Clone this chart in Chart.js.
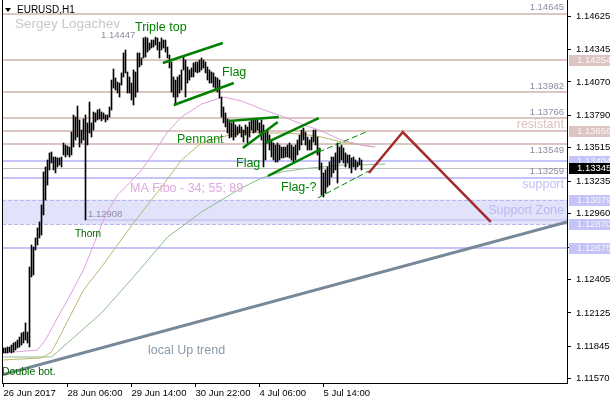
<!DOCTYPE html>
<html><head><meta charset="utf-8">
<script src="https://cdn.jsdelivr.net/npm/chart.js@4.4.0/dist/chart.umd.min.js"></script>
<style>html,body{margin:0;padding:0;background:#fff;}canvas{display:block;}</style>
</head><body>
<canvas id="c" width="610" height="400"></canvas>
<script>
// ---- data ----
const timeLabels = ['26 Jun 2017','28 Jun 06:00','29 Jun 14:00','30 Jun 22:00','4 Jul 06:00','5 Jul 14:00'];
const timeTickBars = [0,32,64,96,128,160];
const priceTicks = [1.14625,1.14345,1.14070,1.13790,1.13515,1.13235,1.12960,1.12680,1.12405,1.12125,1.11845,1.11570];

const highs = [
1.11830,1.11830,1.11838,1.11838,1.11855,1.11872,1.11880,1.11897,1.11922,1.11956,
1.11964,1.12041,1.11964,1.12512,1.12697,1.12680,1.12756,1.12841,1.12891,1.13034,
1.13312,1.13354,1.13413,1.13472,1.13480,1.13438,1.13438,1.13430,1.13430,1.13438,
1.13556,1.13539,1.13530,1.13522,1.13648,1.13792,1.13775,1.13867,1.13750,1.13665,
1.13758,1.13792,1.13725,1.13901,1.13725,1.13817,1.13809,1.13834,1.13842,1.13817,
1.13809,1.13792,1.13792,1.13859,1.14086,1.14179,1.14103,1.14069,1.14061,1.14146,
1.14314,1.14339,1.14154,1.14112,1.14061,1.14171,1.14154,1.14314,1.14314,1.14272,
1.14440,1.14448,1.14440,1.14398,1.14423,1.14423,1.14447,1.14440,1.14406,1.14440,
1.14423,1.14423,1.14364,1.14297,1.14238,1.14112,1.14086,1.14112,1.14128,1.14171,
1.14280,1.14255,1.14196,1.14171,1.14188,1.14230,1.14238,1.14238,1.14255,1.14272,
1.14255,1.14238,1.14196,1.14171,1.14154,1.14146,1.14112,1.14103,1.14086,1.13943,
1.13859,1.13809,1.13758,1.13750,1.13725,1.13733,1.13708,1.13691,1.13708,1.13691,
1.13665,1.13708,1.13691,1.13733,1.13758,1.13758,1.13750,1.13750,1.13725,1.13750,
1.13708,1.13640,1.13665,1.13623,1.13581,1.13556,1.13539,1.13556,1.13539,1.13522,
1.13522,1.13522,1.13539,1.13556,1.13539,1.13522,1.13539,1.13581,1.13623,1.13665,
1.13682,1.13648,1.13606,1.13581,1.13606,1.13665,1.13665,1.13606,1.13514,1.13388,
1.13304,1.13329,1.13354,1.13396,1.13438,1.13438,1.13472,1.13556,1.13522,1.13539,
1.13514,1.13472,1.13455,1.13455,1.13430,1.13438,1.13413,1.13396,1.13430,1.13413];
const lows = [
1.11788,1.11788,1.11788,1.11796,1.11788,1.11796,1.11813,1.11830,1.11838,1.11855,
1.11872,1.11897,1.11872,1.11838,1.12428,1.12445,1.12655,1.12697,1.12756,1.12781,
1.12950,1.13076,1.13202,1.13329,1.13388,1.13329,1.13304,1.13354,1.13371,1.13354,
1.13455,1.13438,1.13455,1.13438,1.13455,1.13522,1.13581,1.13606,1.13522,1.13556,
1.13581,1.12908,1.13539,1.13640,1.13606,1.13665,1.13733,1.13750,1.13758,1.13742,
1.13758,1.13733,1.13750,1.13775,1.13834,1.14019,1.14002,1.13977,1.13943,1.14044,
1.14112,1.14146,1.13977,1.13977,1.13918,1.13876,1.13943,1.13985,1.14196,1.14213,
1.14272,1.14280,1.14322,1.14339,1.14356,1.14364,1.14381,1.14339,1.14272,1.14339,
1.14356,1.14322,1.14272,1.14188,1.13985,1.13943,1.13876,1.13943,1.13977,1.14002,
1.14171,1.13943,1.14061,1.14086,1.14112,1.14112,1.14154,1.14146,1.14154,1.14171,
1.14188,1.14146,1.14086,1.14061,1.14061,1.14027,1.14002,1.13985,1.13935,1.13775,
1.13725,1.13691,1.13640,1.13598,1.13606,1.13581,1.13606,1.13623,1.13640,1.13606,
1.13564,1.13623,1.13556,1.13606,1.13665,1.13640,1.13648,1.13665,1.13640,1.13581,
1.13354,1.13413,1.13556,1.13497,1.13438,1.13413,1.13396,1.13396,1.13413,1.13430,
1.13430,1.13438,1.13438,1.13430,1.13413,1.13396,1.13413,1.13455,1.13497,1.13539,
1.13581,1.13539,1.13497,1.13497,1.13497,1.13564,1.13539,1.13455,1.13329,1.13118,
1.13101,1.13135,1.13185,1.13202,1.13270,1.13304,1.13329,1.13219,1.13388,1.13413,
1.13388,1.13354,1.13388,1.13346,1.13304,1.13354,1.13329,1.13354,1.13371,1.13329];

// moving averages: [bar, price]
const ma34 = [[0,1.11788],[17,1.11813],[21,1.11897],[25,1.12024],[32,1.12234],[40,1.12487],[46,1.12739],[51,1.12950],[57,1.13118],[63,1.13219],[69,1.13329],[74,1.13447],[82,1.13648],[89,1.13775],[99,1.13884],[110,1.13943],[119,1.13910],[129,1.13842],[139,1.13783],[149,1.13716],[159,1.13657],[169,1.13581],[179,1.13539],[186,1.13522]];
const ma55 = [[0,1.11729],[19,1.11746],[24,1.11796],[29,1.11956],[40,1.12318],[49,1.12512],[65,1.12883],[79,1.13185],[89,1.13413],[99,1.13556],[109,1.13606],[119,1.13648],[129,1.13640],[139,1.13640],[149,1.13632],[159,1.13606],[169,1.13564],[179,1.13539],[185,1.13522]];
const ma89 = [[0,1.11754],[24,1.11754],[32,1.11872],[49,1.12125],[65,1.12428],[82,1.12764],[99,1.12975],[109,1.13076],[119,1.13177],[129,1.13261],[139,1.13312],[149,1.13337],[159,1.13354],[169,1.13371],[179,1.13371],[191,1.13379]];

// drawn objects: [bar, price] pairs
const flag1Top = [[79.65,1.14230],[109.65,1.14398]];
const flag1Bottom = [[85.15,1.13876],[115.15,1.14061]];
const pennantTop = [[112.65,1.13741],[137.65,1.13775]];
const pennantBottom = [[119.65,1.13514],[137.15,1.13733]];
const flag2Top = [[131.15,1.13556],[157.65,1.13766]];
const flag2Bottom = [[132.15,1.13278],[158.65,1.13505]];
const flag3Top = [[157.65,1.13480],[181.15,1.13648]];
const flag3Bottom = [[157.15,1.13093],[182.65,1.13320]];
const forecast = [[182.65,1.13303],[199.65,1.13648],[243.65,1.12891]];
const upTrend = [[-0.75,1.11603],[281.75,1.12891]];

const resistLevels = [1.14645,1.14254,1.13982,1.13766,1.13656,1.13549];
const supportLevels = [1.13404,1.13259,1.12675];
const supportZone = [1.13079,1.12870];
const thornLevel = 1.12908, thornBar = 41;
const bidPrice = 1.13345;
const highPrice = 1.14447, lowPrice = 1.12908;

// ---- chart ----
const FONT = '"Liberation Sans", Arial, sans-serif';
const pts = a => a.map(p => ({x:p[0], y:p[1]}));
function lineDs(a, color, w, dash, order){
  return {type:'line', data:pts(a), borderColor:color, borderWidth:w, borderDash:dash||[], pointRadius:0, tension:0, fill:false, order:order};
}

const overlay = {
  id:'overlay',
  beforeDatasetsDraw(chart){
    const {ctx, chartArea:a, scales:{x,y}} = chart;
    ctx.save();
    ctx.beginPath(); ctx.rect(a.left, a.top, a.right-a.left, a.bottom-a.top); ctx.clip();
    const zt = y.getPixelForValue(supportZone[0]), zb = y.getPixelForValue(supportZone[1]);
    ctx.fillStyle = '#e2e2fb';
    ctx.fillRect(a.left, zt, a.right-a.left, zb-zt);
    const hl = (v, color, w, dash, x0) => {
      const py = Math.round(y.getPixelForValue(v)) + (w%2 ? 0.5 : 0);
      ctx.strokeStyle = color; ctx.lineWidth = w; ctx.setLineDash(dash||[]);
      ctx.beginPath(); ctx.moveTo(x0 !== undefined ? x0 : a.left, py); ctx.lineTo(a.right, py); ctx.stroke();
    };
    hl(thornLevel, '#cdcdf3', 2, null, x.getPixelForValue(thornBar));
    hl(supportZone[0], '#b8b8f0', 1, [4,2]);
    hl(supportZone[1], '#b8b8f0', 1, [4,2]);
    resistLevels.forEach(v => hl(v, '#dcc6c2', 2));
    supportLevels.forEach(v => hl(v, '#c4c4f8', 2));
    hl(bidPrice, '#c0c0c0', 1);
    ctx.restore();
  },
  afterDatasetsDraw(chart){
    const {ctx, chartArea:a, scales:{x,y}} = chart;
    ctx.save();
    const t = (s, px, py, color, size, align) => {
      ctx.font = size + 'px ' + FONT; ctx.fillStyle = color; ctx.textAlign = align||'left'; ctx.textBaseline = 'alphabetic';
      ctx.fillText(s, px, py);
    };
    const R = a.right - 3;
    [1.14645,1.13982,1.13766].forEach(v => t(v.toFixed(5), R, y.getPixelForValue(v)-3.5, '#8c8ca4', 9.5, 'right'));
    t('1.13549', R, y.getPixelForValue(1.13549)+9, '#8c8ca4', 9.5, 'right');
    t('1.13259', R, y.getPixelForValue(1.13259)-4, '#8c8ca4', 9.5, 'right');
    t('resistant', R, y.getPixelForValue(1.13656)-3, '#dcc2be', 12.5, 'right');
    t('support', R, y.getPixelForValue(supportZone[0])-12, '#c0c0f4', 12.5, 'right');
    t('Support Zone', R, y.getPixelForValue(supportZone[0])+14, '#b8b8f0', 12.5, 'right');
    t('Sergey Logachev', 15, 28, '#c8c8c8', 13.5);
    t('Triple top', 135, 31, '#008000', 12.5);
    t(highPrice.toFixed(5), 101, 38, '#8c8ca4', 9.5);
    t('Flag', 222, 76, '#008000', 12.5);
    t('Pennant', 177, 143, '#0f8a0f', 12.5);
    t('Flag', 236, 167, '#008000', 12.5);
    t('Flag-?', 281, 191, '#008000', 12.5);
    t('MA Fibo - 34; 55; 89', 130, 192, '#e0a8e0', 12.5);
    t(lowPrice.toFixed(5), 88, 217, '#8c8ca4', 9.5);
    t('Thorn', 75, 237, '#006400', 10);
    t('Double bot.', 2, 375, '#006400', 10.5);
    t('local Up trend', 148, 354, '#8a9aaa', 12.5);
    ctx.restore();
  },
  afterDraw(chart){
    const {ctx, chartArea:a, scales:{y}} = chart;
    ctx.save();
    ctx.strokeStyle = '#000'; ctx.lineWidth = 1;
    ctx.beginPath(); ctx.moveTo(a.left+0.5, 0); ctx.lineTo(a.left+0.5, a.bottom); ctx.stroke();
    ctx.fillStyle = '#000';
    ctx.beginPath(); ctx.moveTo(5,8); ctx.lineTo(11,8); ctx.lineTo(8,12); ctx.closePath(); ctx.fill();
    ctx.font = '10px ' + FONT; ctx.textAlign='left'; ctx.textBaseline='alphabetic';
    ctx.fillText('EURUSD,H1', 17, 13);
    const box = (v, bg, fg) => {
      const py = Math.round(y.getPixelForValue(v));
      ctx.fillStyle = bg; ctx.fillRect(a.right+2, py-5, 41, 11);
      ctx.fillStyle = fg; ctx.font = '9.5px ' + FONT; ctx.textBaseline='middle';
      ctx.fillText(v.toFixed(5), a.right+10, py+0.5);
    };
    box(1.14254, '#dcc6c2', '#fbf4f3');
    box(1.13656, '#dcc6c2', '#fbf4f3');
    box(1.13404, '#c4c4f8', '#f4f4ff');
    box(supportZone[0], '#c4c4f8', '#f4f4ff');
    box(supportZone[1], '#c4c4f8', '#f4f4ff');
    box(1.12675, '#c4c4f8', '#f4f4ff');
    box(bidPrice, '#000', '#fff');
    ctx.restore();
  }
};

new Chart(document.getElementById('c'), {
  type:'bar',
  data:{datasets:[
    {type:'bar', data: highs.map((h,i)=>({x:i, y:[lows[i], h]})), backgroundColor:'#000', borderWidth:0, barThickness:1, grouped:false, order:2},
    lineDs(ma34, '#dda0dd', 1, null, 3),
    lineDs(ma55, '#bdb76b', 1, null, 3),
    lineDs(ma89, '#8fbc8f', 1, null, 3),
    lineDs(flag1Top, '#008000', 2.5, null, 1),
    lineDs(flag1Bottom, '#008000', 2.5, null, 1),
    lineDs(pennantTop, '#008000', 2.5, null, 1),
    lineDs(pennantBottom, '#008000', 2.5, null, 1),
    lineDs(flag2Top, '#008000', 2.5, null, 1),
    lineDs(flag2Bottom, '#008000', 2.5, null, 1),
    lineDs(flag3Top, '#008000', 1, [6,3], 1),
    lineDs(flag3Bottom, '#008000', 1, [6,3], 1),
    lineDs(forecast, '#a52a2a', 2.5, null, 0),
    lineDs(upTrend, '#778899', 3, null, 0)
  ]},
  options:{
    responsive:false, animation:false, devicePixelRatio:1,
    layout:{padding:{left:2, top:0, right:0, bottom:0}},
    plugins:{legend:{display:false}, tooltip:{enabled:false}},
    scales:{
      x:{type:'linear', min:-0.75, max:281.75, offset:false,
         afterBuildTicks:s=>{ s.ticks = timeTickBars.map(v=>({value:v})); },
         afterFit:s=>{ s.height = 17; s.paddingLeft = 0; s.paddingRight = 0; },
         ticks:{autoSkip:false, maxRotation:0, align:'start', padding:1, color:'#000',
                font:{family:FONT, size:9.5}, callback:v=>timeLabels[timeTickBars.indexOf(v)]},
         grid:{drawOnChartArea:false, offset:false, tickLength:4, color:'#000'},
         border:{display:true, color:'#000'}},
      y:{position:'right', min:1.11535, max:1.14760,
         afterBuildTicks:s=>{ s.ticks = priceTicks.map(v=>({value:v})); },
         afterFit:s=>{ s.width = 43; s.paddingTop = 0; s.paddingBottom = 0; },
         ticks:{padding:5, color:'#000', font:{family:FONT, size:9.5}, callback:v=>v.toFixed(5)},
         grid:{drawOnChartArea:false, tickLength:4, color:'#000'},
         border:{display:true, color:'#000'}}
    }
  },
  plugins:[overlay]
});
</script>
</body></html>
